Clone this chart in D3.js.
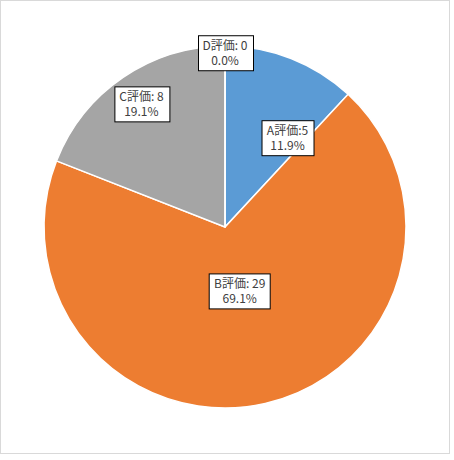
<!DOCTYPE html>
<html>
<head>
<meta charset="utf-8">
<script src="https://cdn.jsdelivr.net/npm/d3@7"></script>
<style>
  body { margin: 0; background: #fff; }
</style>
</head>
<body>
<div id="chart"></div>
<script>
const width = 454
const height = 460

// data
const categories = ["A評価", "B評価", "C評価", "D評価"]
const values = [5, 29, 8, 0]
const percentLabels = ["11.9%", "69.1%", "19.1%", "0.0%"]
const separators = [":", ": ", ": ", ": "]
const colors = ["#5B9BD5", "#ED7D31", "#A5A5A5", "#FFC000"]

// where each label sits: t = fraction along the slice, r = fraction of radius
const labelPlace = [{t: 0.82, r: 0.6}, {t: 0.5, r: 0.365}, {t: 0.5, r: 0.82}, {t: 0, r: 0.96}]

const cx = 225, cy = 227, radius = 181

const svg = d3.select("#chart").append("svg")
    .attr("width", width)
    .attr("height", height)
    .style("font-family", "'Noto Sans CJK JP', 'Noto Sans', sans-serif")

// chart border
svg.append("rect")
    .attr("x", 0.5).attr("y", 0.5)
    .attr("width", 449).attr("height", 453)
    .attr("fill", "#fff")
    .attr("stroke", "#d9d9d9")

const pie = d3.pie().sort(null).value(d => d)
const arcs = pie(values)
const arc = d3.arc().innerRadius(0).outerRadius(radius)

const g = svg.append("g").attr("transform", `translate(${cx},${cy})`)

g.selectAll("path")
    .data(arcs)
    .join("path")
    .attr("d", arc)
    .attr("fill", (d, i) => colors[i])
    .attr("stroke", "#fff")
    .attr("stroke-width", 1.5)

// data labels
const labels = g.selectAll("g.label")
    .data(arcs)
    .join("g")
    .attr("class", "label")
    .attr("transform", (d, i) => {
        const p = labelPlace[i]
        const a = d.startAngle + (d.endAngle - d.startAngle) * p.t
        const r = radius * p.r
        return `translate(${r * Math.sin(a)},${-r * Math.cos(a)})`
    })

const box = labels.append("rect")
    .attr("fill", "#fff")
    .attr("stroke", "#000")
    .attr("stroke-width", 1)

const txt = labels.append("text")
    .attr("text-anchor", "middle")
    .attr("font-size", 12)
    .attr("fill", "#404040")

txt.append("tspan")
    .attr("x", 0).attr("y", -3)
    .text((d, i) => categories[i] + separators[i] + values[i])
txt.append("tspan")
    .attr("x", 0).attr("y", 12)
    .text((d, i) => percentLabels[i])

txt.each(function(d, i) {
    const bb = this.getBBox()
    d3.select(box.nodes()[i])
        .attr("x", Math.round(bb.x - 5) + 0.5)
        .attr("y", Math.round(bb.y - 1) + 0.5)
        .attr("width", Math.round(bb.width + 10))
        .attr("height", Math.round(bb.height + 3))
})
</script>
</body>
</html>
